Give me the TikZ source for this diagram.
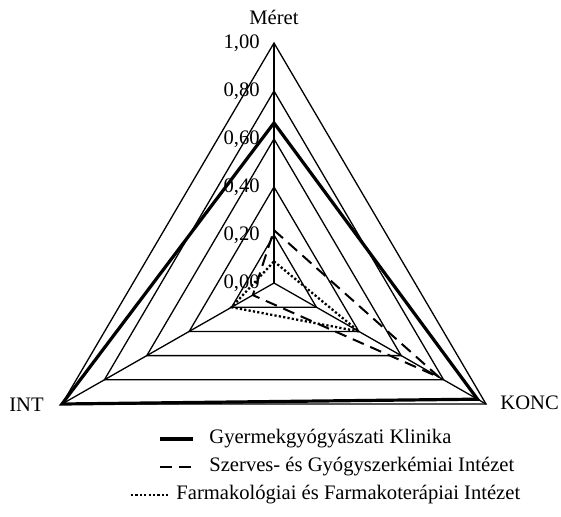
\documentclass[tikz,border=0pt]{standalone}
\usepackage{fontspec}
\setmainfont{Liberation Serif}
\usetikzlibrary{calc}

\begin{document}
\begin{tikzpicture}[x=0.5pt, y=0.5pt, font=\fontsize{10.3}{12}\selectfont,
    grid/.style={line width=0.65pt},
    serie1/.style={line width=1.6pt, line join=miter},
    serie2/.style={line width=1pt, dash pattern=on 6pt off 3.5pt},
    serie3/.style={line width=1.15pt, dash pattern=on 1.1pt off 1.1pt}]

\useasboundingbox (-274,-233) rectangle (287,283);

% axes
\coordinate (O) at (0,0);
\coordinate (M) at (0,240);
\coordinate (I) at (-212,-121);
\coordinate (K) at (212,-121);

% rings
\foreach \r in {0.2,0.4,0.6,0.8,1} {
  \draw [grid] ($(O)!\r!(M)$) -- ($(O)!\r!(K)$) -- ($(O)!\r!(I)$) -- cycle;
}
\draw [grid] (O) -- (M);
\draw [grid] (O) -- (I);
\draw [grid] (O) -- (K);

% scale
\foreach \k/\t in {0/{0,00},1/{0,20},2/{0,40},3/{0,60},4/{0,80},5/{1,00}} {
  \node [anchor=east, inner sep=0pt] (s\k) at (-14, 48*\k) {\t};
}

% axis names
\node [inner sep=0pt] (nM) at (0,266) {Méret};
\node [anchor=east, inner sep=0pt] (nI) at (-230,-122) {INT};
\node [anchor=west, inner sep=0pt] (nK) at (226,-120) {KONC};

% series
\draw [serie1] ($(O)!0.667!(M)$) -- ($(O)!0.96!(K)$) -- ($(O)!1!(I)$) -- cycle;
\draw [serie2] ($(O)!0.22!(M)$) -- ($(O)!0.78!(K)$) -- ($(O)!0.10!(I)$) -- cycle;
\draw [serie3] ($(O)!0.09!(M)$) -- ($(O)!0.40!(K)$) -- ($(O)!0.20!(I)$) -- cycle;

% legend
\coordinate (a1) at (-114,-156); \coordinate (b1) at (-81,-156);
\coordinate (a2) at (-114,-184); \coordinate (b2) at (-81,-184);
\coordinate (a3) at (-143,-212); \coordinate (b3) at (-105,-212);
\draw [serie1] (a1) -- (b1);
\draw [serie2] (a2) -- (b2);
\draw [serie3] (a3) -- (b3);
\node [anchor=west, inner sep=0pt] (t1) at (-65,-156) {Gyermekgyógyászati Klinika};
\node [anchor=west, inner sep=0pt] (t2) at (-65,-184) {Szerves- és Gyógyszerkémiai Intézet};
\node [anchor=west, inner sep=0pt] (t3) at (-98,-212) {Farmakológiai és Farmakoterápiai Intézet};

\end{tikzpicture}
\end{document}
